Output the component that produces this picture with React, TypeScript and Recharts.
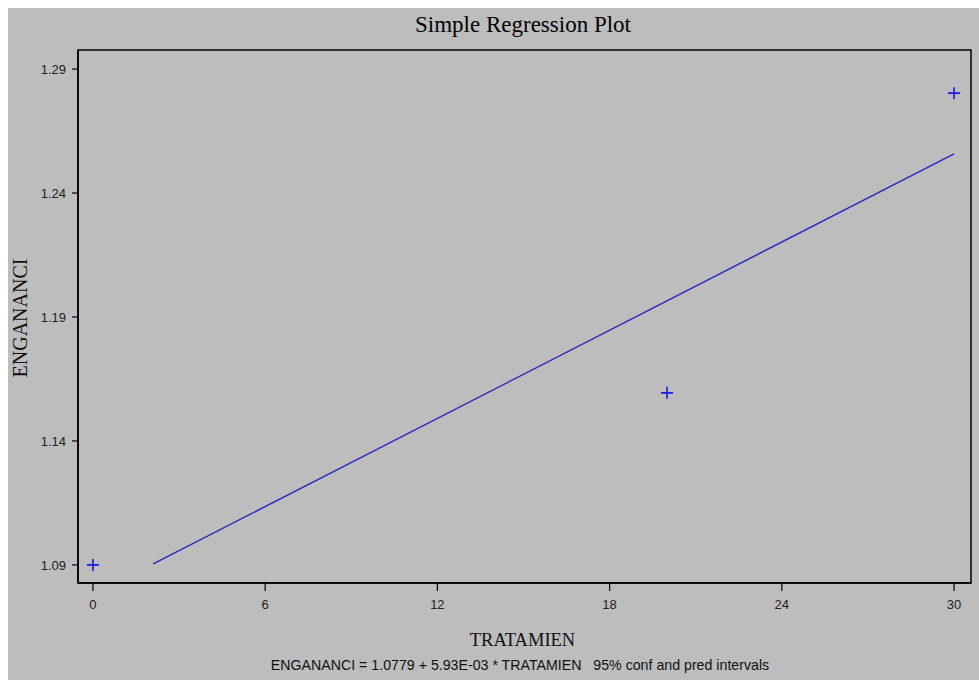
import React from 'react';
import { ScatterChart, Scatter, XAxis, YAxis, ReferenceArea } from 'recharts';

// ---- data ----
const xTicks = [0, 6, 12, 18, 24, 30];
const yTicks = [1.09, 1.14, 1.19, 1.24, 1.29];
const obsX = [0, 20, 30];
const obsY = [1.09, 1.1594, 1.2803];
const fitX = [2.1, 30];
const fitY = [1.0904, 1.2558];
const xDomain: [number, number] = [-0.52, 30.59];
const yDomain: [number, number] = [1.0827, 1.2977];

const titleText = 'Simple Regression Plot';
const xLabel = 'TRATAMIEN';
const yLabel = 'ENGANANCI';
const footText = 'ENGANANCI = 1.0779 + 5.93E-03 * TRATAMIEN\u00a0\u00a0\u00a095% conf and pred intervals';

const obsData = obsX.map((x, i) => ({ x, y: obsY[i] }));
const fitData = fitX.map((x, i) => ({ x, y: fitY[i] }));

const W = 971;
const H = 672;
const BG = '#bdbdbd';
const MARK = '#1a1ae6';
const LINE = '#2b2bc0';
const SANS = '"Liberation Sans", Arial, sans-serif';
const SERIF = '"Liberation Serif", "Times New Roman", serif';

const Plus = (props: any) => {
  const { cx, cy } = props;
  if (cx == null || cy == null) return <g />;
  return (
    <path
      d={`M${cx - 6},${cy}H${cx + 6}M${cx},${cy - 6}V${cy + 6}`}
      stroke={MARK}
      strokeWidth={1.6}
      fill="none"
    />
  );
};

const NoShape = () => <g />;

export default function App() {
  return (
    <div
      style={{
        position: 'absolute',
        left: 8,
        top: 8,
        width: W,
        height: H,
        background: BG,
        overflow: 'hidden',
      }}
    >
      <ScatterChart width={W} height={H} margin={{ top: 42, right: 8, bottom: 0, left: 0 }}>
        <XAxis
          dataKey="x"
          type="number"
          domain={xDomain}
          ticks={xTicks}
          allowDataOverflow
          height={97}
          tickSize={8}
          tickMargin={9}
          axisLine={{ stroke: '#000', strokeWidth: 1.5 }}
          tickLine={{ stroke: '#000', strokeWidth: 1.2 }}
          tick={{ fill: '#222', fontSize: 13, fontFamily: SANS }}
          tickFormatter={(v: number) => String(v)}
        />
        <YAxis
          dataKey="y"
          type="number"
          domain={yDomain}
          ticks={yTicks}
          allowDataOverflow
          width={70}
          tickSize={6}
          tickMargin={6}
          axisLine={{ stroke: '#000', strokeWidth: 1.5 }}
          tickLine={{ stroke: '#000', strokeWidth: 1.2 }}
          tick={{ fill: '#222', fontSize: 13, fontFamily: SANS }}
          tickFormatter={(v: number) => v.toFixed(2)}
        />
        <ReferenceArea
          x1={xDomain[0]}
          x2={xDomain[1]}
          y1={yDomain[0]}
          y2={yDomain[1]}
          ifOverflow="extendDomain"
          fill="none"
          fillOpacity={0}
          stroke="#000"
          strokeWidth={1.5}
          strokeOpacity={1}
        />
        <Scatter
          data={fitData}
          line={{ stroke: LINE, strokeWidth: 1.5 }}
          shape={NoShape}
          isAnimationActive={false}
        />
        <Scatter data={obsData} shape={Plus} isAnimationActive={false} />
      </ScatterChart>
      <svg
        width={W}
        height={H}
        style={{ position: 'absolute', left: 0, top: 0, pointerEvents: 'none' }}
      >
        <text x={515} y={24} textAnchor="middle" fontFamily={SERIF} fontSize={23} fill="#000">
          {titleText}
        </text>
        <text x={514.5} y={638} textAnchor="middle" fontFamily={SERIF} fontSize={18.5} fill="#111">
          {xLabel}
        </text>
        <text
          x={19}
          y={310}
          textAnchor="middle"
          fontFamily={SERIF}
          fontSize={20}
          fill="#111"
          transform="rotate(-90, 19, 310)"
        >
          {yLabel}
        </text>
        <text x={512} y={662} textAnchor="middle" fontFamily={SANS} fontSize={14.2} fill="#111">
          {footText}
        </text>
      </svg>
    </div>
  );
}
